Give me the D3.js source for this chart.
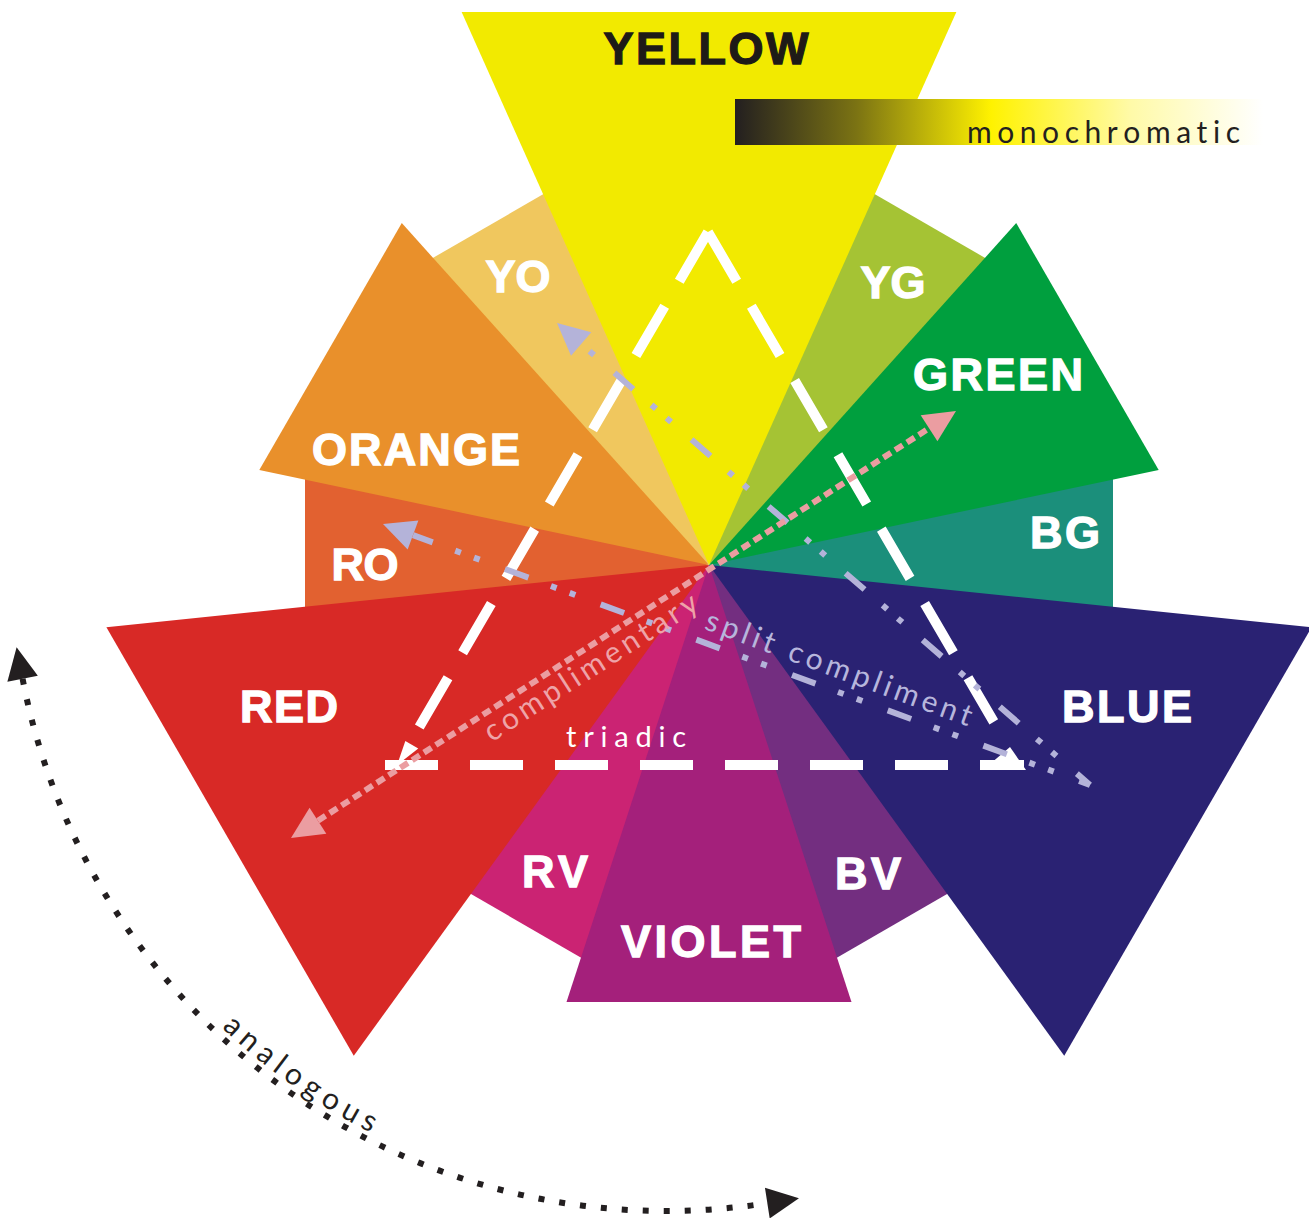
<!DOCTYPE html>
<html>
<head>
    <meta charset="utf-8">
    <title>Colour wheel</title>
    <script src="https://cdn.jsdelivr.net/npm/d3@7"></script>
    <style>
        body { margin: 0; background: #fff; }
        svg { display: block; }
        .name { font-family: "Liberation Sans", Arial, sans-serif; font-weight: bold; font-size: 45px; text-anchor: middle; stroke-width: 1.3; }
        .thin { font-family: Lato, "Open Sans", sans-serif; font-weight: 400; font-variant-ligatures: none; font-kerning: none; }
    </style>
</head>
<body>
<div id="wheel"></div>
<script>
// twelve hues, clockwise from the top
var names = ["YELLOW", "YG", "GREEN", "BG", "BLUE", "BV", "VIOLET", "RV", "RED", "RO", "ORANGE", "YO"];
var hues  = ["#f2ea00", "#a5c334", "#009f3e", "#1b8f7b", "#2a2273", "#732e80",
             "#a4207b", "#cb2373", "#d82926", "#e26130", "#e9902b", "#f0c75e"];
var tier  = [1, 3, 2, 3, 1, 3, 2, 3, 1, 3, 2, 3];   // 1 primary, 2 secondary, 3 tertiary
var relations = ["monochromatic", "triadic", "complimentary", "split compliment", "analogous"];

var width = 1309, height = 1218;
var cx = 709, cy = 565;

var svg = d3.select("#wheel").append("svg")
    .attr("width", width)
    .attr("height", height);
var defs = svg.append("defs");

var angle  = d3.scaleLinear().domain([0, 12]).range([-90, 270]);          // hue index -> degrees
var depth  = d3.scaleOrdinal().domain([1, 2, 3]).range([553, 437, 404]);  // distance to the outer edge
var spread = d3.scaleOrdinal().domain([1, 2, 3]).range([24.1, 18.06, 20]); // half angle

function polar(deg, r, ox, oy) {
    var a = deg * Math.PI / 180;
    return [(ox == null ? cx : ox) + r * Math.cos(a), (oy == null ? cy : oy) + r * Math.sin(a)];
}

// ---- wedges ----
var wedges = names.map(function(n, i) { return {name: n, hue: hues[i], tier: tier[i], a: angle(i), i: i}; });
wedges.sort(function(a, b) { return b.tier - a.tier; });

svg.append("g").selectAll("path").data(wedges).join("path")
    .attr("d", function(d) {
        var h = spread(d.tier), r = depth(d.tier) / Math.cos(h * Math.PI / 180);
        return "M" + [cx, cy] + "L" + polar(d.a - h, r) + "L" + polar(d.a + h, r) + "Z";
    })
    .attr("fill", function(d) { return d.hue; });

// label centre x, baseline y, width (layout only)
var labelBox = [[706, 64, 205], [893, 298, 65], [998, 390, 170], [1065, 548, 70], [1127, 722, 130], [868, 889, 66],
                [711, 957, 180], [555, 887, 66], [289, 722, 98], [365, 580, 67], [416, 465, 208], [518, 292, 65]];

svg.append("g").selectAll("text").data(names).join("text")
    .attr("class", "name")
    .attr("x", function(d, i) { return labelBox[i][0]; })
    .attr("y", function(d, i) { return labelBox[i][1]; })
    .attr("textLength", function(d, i) { return labelBox[i][2]; })
    .attr("lengthAdjust", "spacing")
    .attr("fill", function(d, i) { return i === 0 ? "#1e1a17" : "#fff"; })
    .attr("stroke", function(d, i) { return i === 0 ? "#1e1a17" : "#fff"; })
    .text(function(d) { return d; });

// ---- monochromatic bar ----
var grad = defs.append("linearGradient").attr("id", "mono");
[[0, "#231f20"], [0.23, "#7b7313"], [0.485, "#fff200"], [0.75, "#fffaa8"], [1, "#ffffff"]].forEach(function(s) {
    grad.append("stop").attr("offset", s[0]).attr("stop-color", s[1]);
});
svg.append("rect").attr("x", 735).attr("y", 99).attr("width", 528).attr("height", 46).attr("fill", "url(#mono)");
svg.append("text").attr("class", "thin")
    .attr("x", 967).attr("y", 143).attr("font-size", 30)
    .attr("textLength", 273).attr("lengthAdjust", "spacing")
    .attr("fill", "#231f20")
    .text(relations[0]);

// ---- markers ----
function arrow(id, color) {
    defs.append("marker").attr("id", id)
        .attr("markerUnits", "userSpaceOnUse")
        .attr("viewBox", "-2 -18 38 36").attr("refX", 0).attr("refY", 0)
        .attr("markerWidth", 38).attr("markerHeight", 36)
        .attr("orient", "auto-start-reverse")
        .style("overflow", "visible")
        .append("path").attr("d", "M0,-15.5L32,0L0,15.5Z").attr("fill", color);
}
arrow("pinkArrow", "#eb9da1");
arrow("lavArrow", "#b4b3d9");
arrow("blackArrow", "#231f20");

function fin(id, d) {
    defs.append("marker").attr("id", id)
        .attr("markerUnits", "userSpaceOnUse")
        .attr("viewBox", "-50 -30 80 60").attr("refX", 0).attr("refY", 0)
        .attr("markerWidth", 80).attr("markerHeight", 60)
        .attr("orient", "auto")
        .style("overflow", "visible")
        .append("path").attr("d", d).attr("fill", "#fff");
}
fin("finLeft", "M25,0L0,5L0,-10Z");
fin("finRight", "M2,5L-14,-18L-41,5Z");

function along(p, dir, s) { return [p[0] + dir[0] * s, p[1] + dir[1] * s]; }
function unit(p0, p1) { var dx = p1[0] - p0[0], dy = p1[1] - p0[1], L = Math.hypot(dx, dy); return [dx / L, dy / L, L]; }
var line = d3.line();

// ---- triadic ----
var apex = [708, 232], down = [0.504, 0.864];
var tri = svg.append("g").attr("fill", "none").attr("stroke", "#fff").attr("stroke-width", 10);
tri.append("path").attr("d", line([apex, along(apex, [-down[0], down[1]], 592)]))
    .attr("stroke-dasharray", "57,29").attr("marker-end", "url(#finLeft)");
tri.append("path").attr("d", line([apex, along(apex, down, 567)]))
    .attr("stroke-dasharray", "57,29");
tri.append("path").attr("d", line([[385, 765], [1024, 765]]))
    .attr("stroke-dasharray", "53,32").attr("marker-end", "url(#finRight)");
svg.append("text").attr("class", "thin")
    .attr("x", 566).attr("y", 747).attr("font-size", 29)
    .attr("textLength", 120).attr("lengthAdjust", "spacing")
    .attr("fill", "#fff")
    .text(relations[1]);

// ---- split compliment (blue -> RO, YO) ----
var splitEnd = [1090, 785];
var splitTips = [[557, 323], [383, 524]], splitPhase = [58, 4];
splitTips.forEach(function(tip, k) {
    var u = unit(tip, splitEnd);
    svg.append("path")
        .attr("d", line([along(tip, u, 32), splitEnd]))
        .attr("fill", "none").attr("stroke", "#b4b3d9").attr("stroke-width", 6)
        .attr("stroke-dasharray", "25,24,6,14,6,27").attr("stroke-dashoffset", splitPhase[k])
        .attr("marker-start", "url(#lavArrow)");
});

// ---- complimentary (red <-> green) ----
var redTip = [291, 838], greenTip = [956, 411];
var cu = unit(redTip, greenTip);
svg.append("path")
    .attr("d", line([along(redTip, cu, 32), along(greenTip, cu, -32)]))
    .attr("fill", "none").attr("stroke", "#eb9da1").attr("stroke-width", 6)
    .attr("stroke-dasharray", "9,5")
    .attr("marker-start", "url(#pinkArrow)").attr("marker-end", "url(#pinkArrow)");

function labelOnLine(p0, p1, t, off, txt, len, color) {
    var u = unit(p0, p1);
    var x = p0[0] + (p1[0] - p0[0]) * t - u[1] * off,
        y = p0[1] + (p1[1] - p0[1]) * t + u[0] * off,
        deg = Math.atan2(u[1], u[0]) * 180 / Math.PI;
    svg.append("text").attr("class", "thin")
        .attr("transform", "translate(" + x + "," + y + ") rotate(" + deg + ")")
        .attr("text-anchor", "middle").attr("font-size", 30)
        .attr("textLength", len).attr("lengthAdjust", "spacing")
        .attr("fill", color)
        .text(txt);
}
labelOnLine(redTip, greenTip, 0.436, 28, relations[2], 248, "#eea3a8");
labelOnLine(splitTips[1], splitEnd, 0.634, -12.6, relations[3], 282, "#b7b6dc");

// ---- analogous ----
var ax = 666, ay = 556, ar = 655;
var a0 = polar(169.2, ar, ax, ay), a1 = polar(81.1, ar, ax, ay);
svg.append("path")
    .attr("d", "M" + a0 + "A" + ar + "," + ar + " 0 0 0 " + a1)
    .attr("fill", "none").attr("stroke", "#231f20").attr("stroke-width", 6)
    .attr("stroke-dasharray", "6,15")
    .attr("marker-start", "url(#blackArrow)").attr("marker-end", "url(#blackArrow)");

var tr = 648, t0 = polar(160, tr, ax, ay), t1 = polar(95, tr, ax, ay);
defs.append("path").attr("id", "anaPath")
    .attr("d", "M" + t0 + "A" + tr + "," + tr + " 0 0 0 " + t1);
svg.append("text").attr("class", "thin")
    .attr("font-size", 30).attr("fill", "#231f20")
    .append("textPath").attr("href", "#anaPath")
    .attr("startOffset", (160 - 125.2) * Math.PI / 180 * tr)
    .attr("text-anchor", "middle")
    .attr("textLength", 183).attr("lengthAdjust", "spacing")
    .text(relations[4]);
</script>
</body>
</html>
